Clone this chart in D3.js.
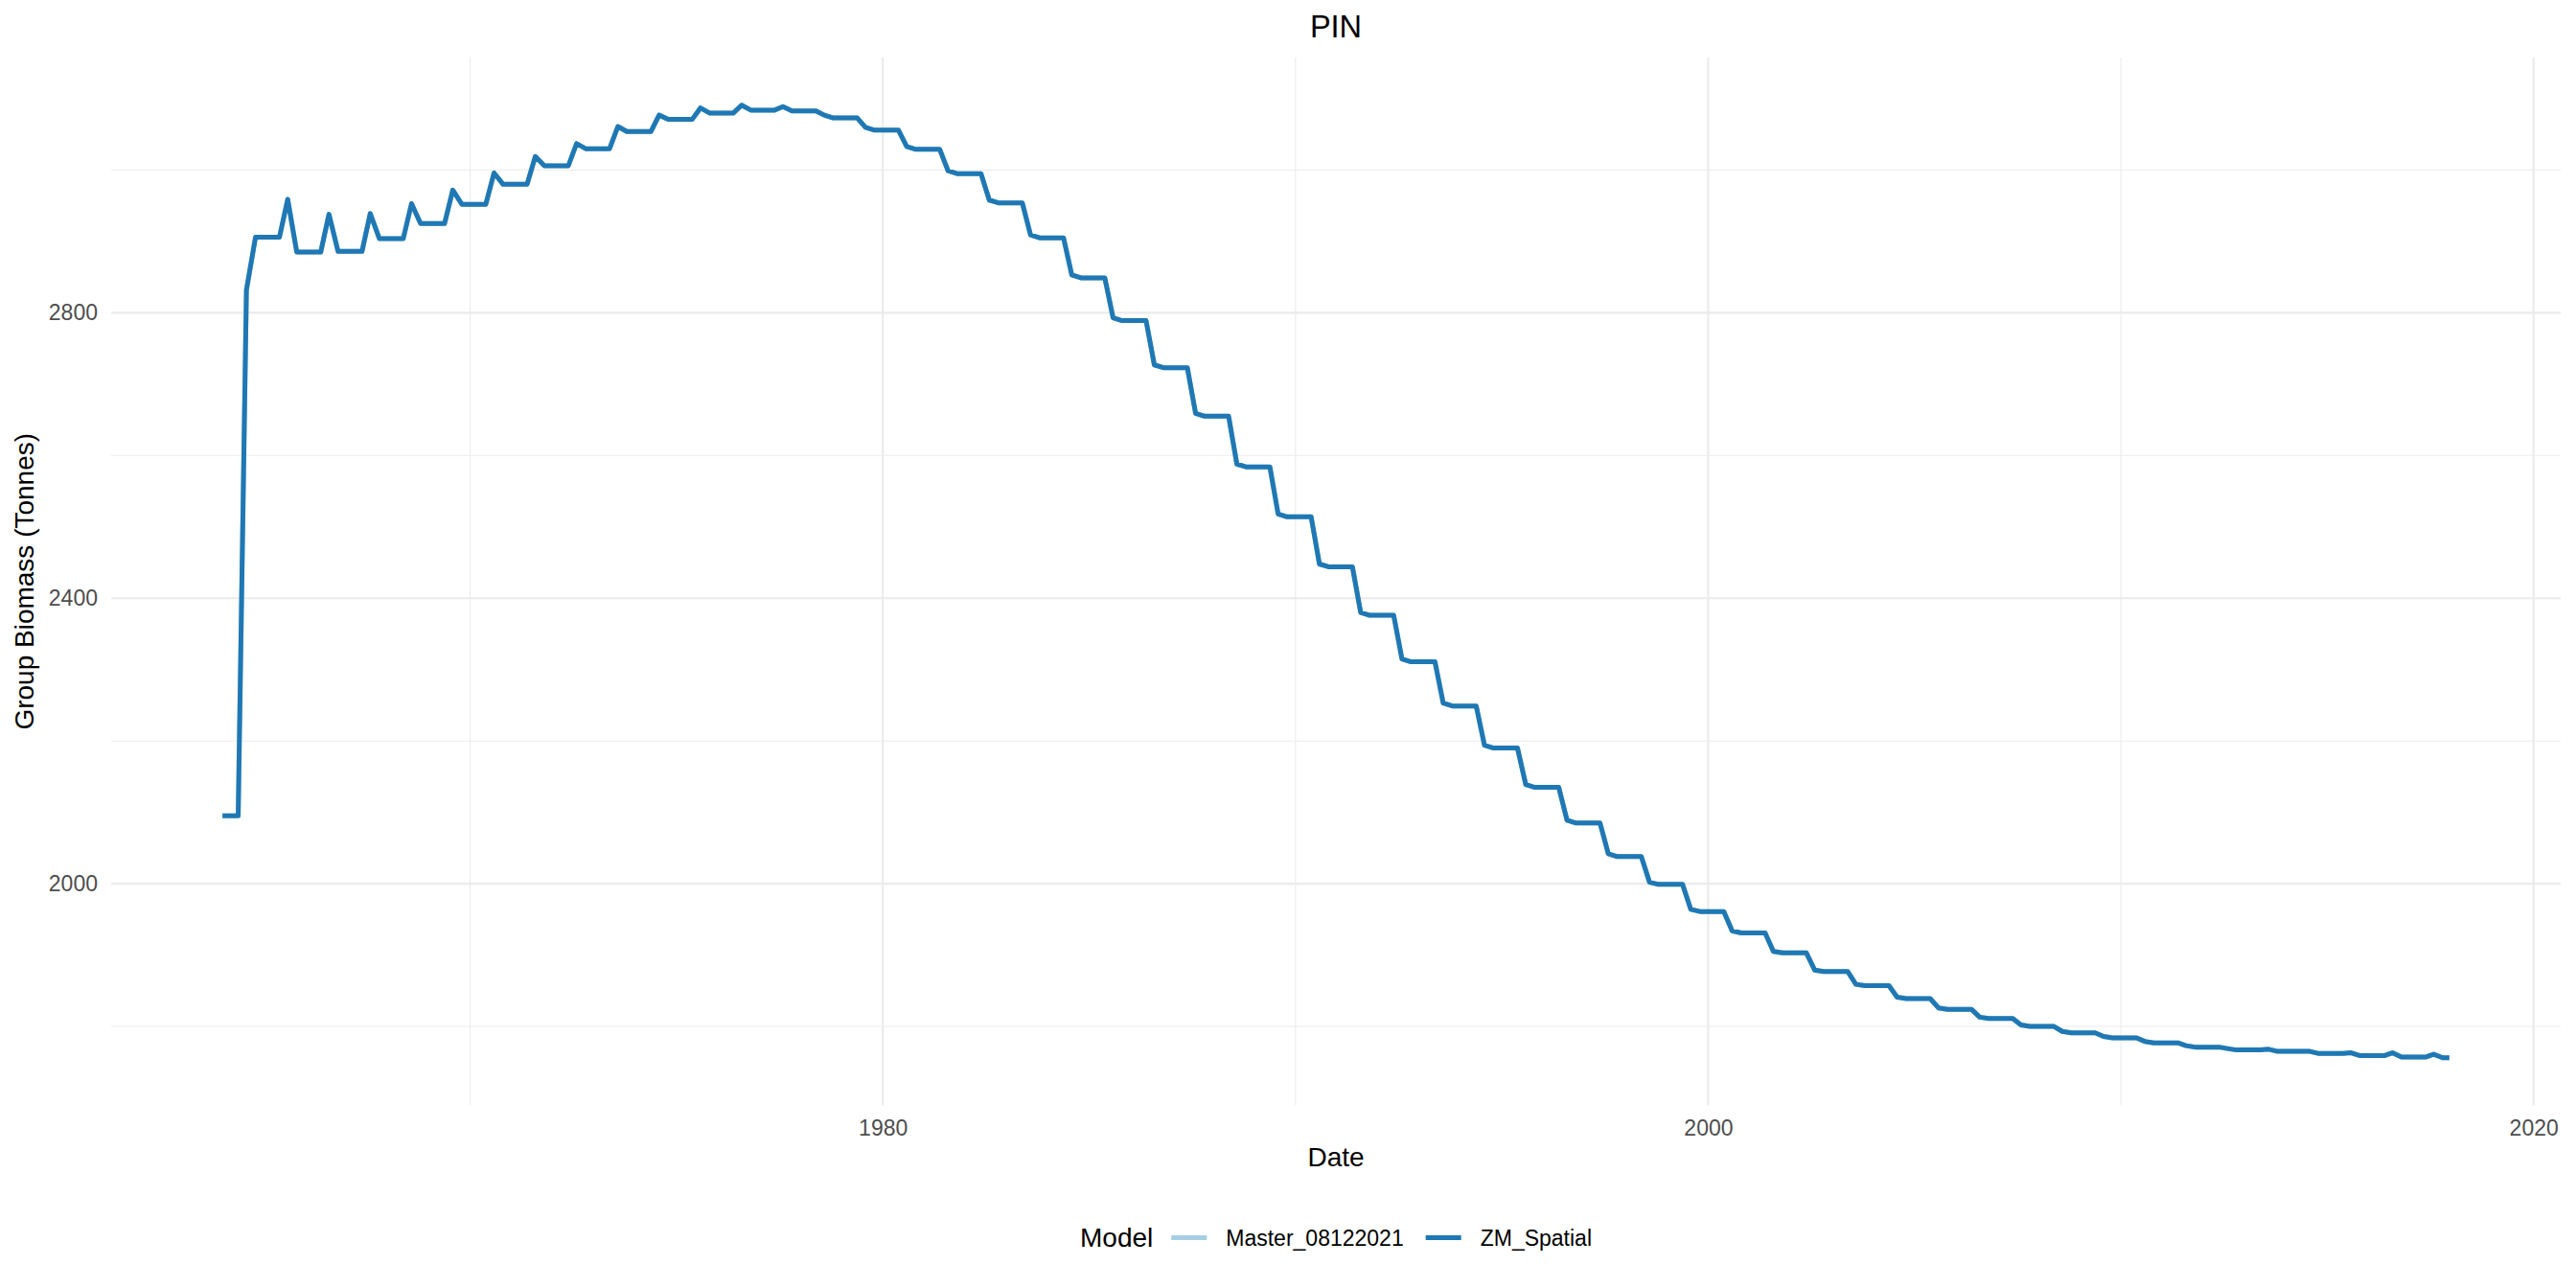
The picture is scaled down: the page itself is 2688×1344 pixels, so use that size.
<!DOCTYPE html>
<html>
<head>
<meta charset="utf-8">
<script src="https://cdn.jsdelivr.net/npm/d3@7"></script>
<style>
  html, body { margin: 0; padding: 0; background: #ffffff; }
  svg text { font-family: "Liberation Sans", Arial, Helvetica, sans-serif; }
</style>
</head>
<body>
<svg id="chart" width="2688" height="1344"></svg>
<script>
// ---------------- data ----------------
// Group biomass (Tonnes) of PIN, one entry per year.
const years = [1964,1965,1966,1967,1968,1969,1970,1971,1972,1973,1974,1975,1976,1977,1978,1979,1980,1981,1982,1983,1984,1985,1986,1987,1988,1989,1990,1991,1992,1993,1994,1995,1996,1997,1998,1999,2000,2001,2002,2003,2004,2005,2006,2007,2008,2009,2010,2011,2012,2013,2014,2015,2016,2017];
// value in mid-summer (around August)
const summerBiomass = [2832,2959,2938,2939,2953,2972,2996,3019,3037,3061,3077,3087,3091,3089,3077,3060,3033,2999,2958,2909,2853,2793,2727,2659,2588,2518,2448,2380,2315,2253,2194,2139,2089,2042,2002,1964,1934,1905,1879,1859,1841,1826,1813,1802,1793,1786,1779,1773,1769,1768,1765,1763,1763,1761];
// level held from autumn (mid-October) until late spring of the next year
const winterBiomass = [2906,2885,2886,2904,2925,2952,2980,3006,3030,3054,3071,3080,3084,3083,3073,3056,3029,2995,2954,2905,2849,2789,2723,2655,2584,2514,2444,2376,2311,2249,2190,2135,2085,2038,1999,1961,1931,1903,1877,1857,1839,1824,1811,1800,1791,1784,1777,1771,1767,1765,1762,1759,1757,1756];
// starting level (January 1964) and end of the series (decimal year)
const startDate = 1964.0;
const startBiomass = 2095;
const endDate = 2017.96;
// position within the year of the three seasonal points (late May, August, mid-October)
const seasonPhase = [0.38, 0.58, 0.80];

const seriesNames = ["Master_08122021", "ZM_Spatial"];
const seriesColors = ["#a6cee3", "#1f78b4"];

const xMajorTicks = [1980, 2000, 2020];
const xMinorTicks = [1970, 1990, 2010];
const yMajorTicks = [2000, 2400, 2800];
const yMinorTicks = [1800, 2200, 2600, 3000];

const titleText = "PIN";
const xTitle = "Date";
const yTitle = "Group Biomass (Tonnes)";
const legendTitle = "Model";

// ---------------- build series ----------------
const points = [{t: startDate, v: startBiomass}];
let prev = startBiomass;
years.forEach((y, i) => {
  points.push({t: y + seasonPhase[0], v: prev});
  points.push({t: y + seasonPhase[1], v: summerBiomass[i]});
  points.push({t: y + seasonPhase[2], v: winterBiomass[i]});
  prev = winterBiomass[i];
});
points.push({t: endDate, v: prev});

// ---------------- layout ----------------
const svg = d3.select("#chart");
const W = 2688, H = 1344;
const panel = {left: 116, right: 2672, top: 60, bottom: 1153.5};

const tExt = d3.extent(points, d => d.t);
const tPad = (tExt[1] - tExt[0]) * 0.05;
const vExt = d3.extent(points, d => d.v);
const vPad = (vExt[1] - vExt[0]) * 0.05;

const x = d3.scaleLinear().domain([tExt[0] - tPad, tExt[1] + tPad]).range([panel.left, panel.right]);
const y = d3.scaleLinear().domain([vExt[0] - vPad, vExt[1] + vPad]).range([panel.bottom, panel.top]);

svg.append("rect").attr("width", W).attr("height", H).attr("fill", "#ffffff");

// grid
const grid = svg.append("g");
grid.selectAll("line.ymin").data(yMinorTicks).join("line")
  .attr("x1", panel.left).attr("x2", panel.right)
  .attr("y1", d => y(d)).attr("y2", d => y(d))
  .attr("stroke", "#ebebeb").attr("stroke-width", 1.1);
grid.selectAll("line.xmin").data(xMinorTicks).join("line")
  .attr("y1", panel.top).attr("y2", panel.bottom)
  .attr("x1", d => x(d)).attr("x2", d => x(d))
  .attr("stroke", "#ebebeb").attr("stroke-width", 1.1);
grid.selectAll("line.ymaj").data(yMajorTicks).join("line")
  .attr("x1", panel.left).attr("x2", panel.right)
  .attr("y1", d => y(d)).attr("y2", d => y(d))
  .attr("stroke", "#ebebeb").attr("stroke-width", 2.2);
grid.selectAll("line.xmaj").data(xMajorTicks).join("line")
  .attr("y1", panel.top).attr("y2", panel.bottom)
  .attr("x1", d => x(d)).attr("x2", d => x(d))
  .attr("stroke", "#ebebeb").attr("stroke-width", 2.2);

// axes
const xAxis = d3.axisBottom(x).tickValues(xMajorTicks).tickFormat(d3.format("d")).tickSize(0).tickPadding(15);
const gx = svg.append("g").attr("transform", `translate(0,${panel.bottom})`).call(xAxis);
gx.select(".domain").remove();
gx.selectAll("text").attr("fill", "#4d4d4d").style("font-size", "23px");

const yAxis = d3.axisLeft(y).tickValues(yMajorTicks).tickFormat(d3.format("d")).tickSize(0).tickPadding(14);
const gy = svg.append("g").attr("transform", `translate(${panel.left},0)`).call(yAxis);
gy.select(".domain").remove();
gy.selectAll("text").attr("fill", "#4d4d4d").style("font-size", "23px");

// lines
const line = d3.line().x(d => x(d.t)).y(d => y(d.v)).curve(d3.curveLinear);
seriesNames.forEach((name, i) => {
  svg.append("path").datum(points)
    .attr("d", line)
    .attr("fill", "none")
    .attr("stroke", seriesColors[i])
    .attr("stroke-width", 5)
    .attr("stroke-linejoin", "round")
    .attr("stroke-linecap", "butt");
});

// titles
const cx = (panel.left + panel.right) / 2;
svg.append("text").attr("x", cx).attr("y", 38.5).attr("text-anchor", "middle")
  .style("font-size", "32.5px").attr("fill", "#000").text(titleText);
svg.append("text").attr("x", cx).attr("y", 1217).attr("text-anchor", "middle")
  .style("font-size", "28px").attr("fill", "#000").text(xTitle);
svg.append("text").attr("transform", `translate(35,${(panel.top + panel.bottom) / 2}) rotate(-90)`)
  .attr("text-anchor", "middle").style("font-size", "28px").attr("fill", "#000").text(yTitle);

// legend
const lg = svg.append("g");
const lgY = 1291.5;
const lt = lg.append("text").attr("x", 0).attr("y", lgY + 9.5).style("font-size", "28px").attr("fill", "#000").text(legendTitle);
let cursor = lt.node().getComputedTextLength() + 19;
seriesNames.forEach((name, i) => {
  lg.append("line").attr("x1", cursor).attr("x2", cursor + 37).attr("y1", lgY).attr("y2", lgY)
    .attr("stroke", seriesColors[i]).attr("stroke-width", 5);
  cursor += 37 + 20;
  const tt = lg.append("text").attr("x", cursor).attr("y", lgY + 8).style("font-size", "23px").attr("fill", "#000").text(name);
  cursor += tt.node().getComputedTextLength() + 23;
});
const legendWidth = cursor - 23;
lg.attr("transform", `translate(${cx - legendWidth / 2},0)`);
</script>
</body>
</html>
